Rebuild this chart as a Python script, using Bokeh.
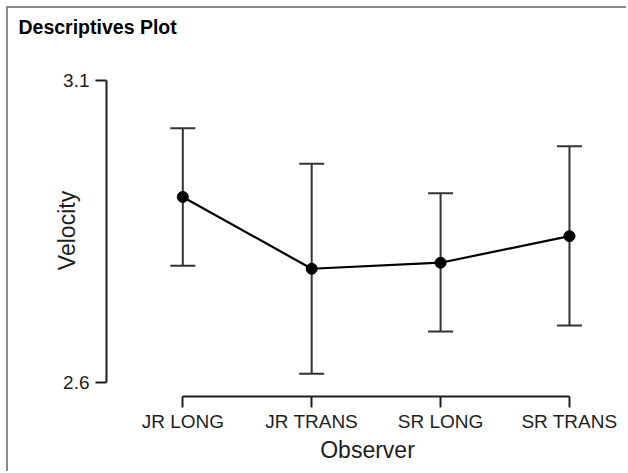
from bokeh.plotting import figure
from bokeh.models import FixedTicker, Range1d, Whisker, TeeHead, ColumnDataSource, Title
from bokeh.embed import file_html
from bokeh.resources import INLINE

title_text = "Descriptives Plot"
observers = ["JR LONG", "JR TRANS", "SR LONG", "SR TRANS"]
means = [2.907, 2.788, 2.798, 2.842]
upper = [3.021, 2.962, 2.913, 2.991]
lower = [2.793, 2.614, 2.684, 2.694]
y_ticks = [2.6, 3.1]

xpos = list(range(len(observers)))
src = ColumnDataSource(dict(x=xpos, mean=means, upper=upper, lower=lower))

FONT = "Liberation Sans"
INK = "#1e1e1e"
W, H = 620, 465

p = figure(width=W, height=H, output_backend="svg", toolbar_location=None,
           x_range=Range1d(-0.592, 3.458), y_range=Range1d(2.5763, 3.1265),
           min_border_left=98, min_border_right=0, min_border_top=56,
           min_border_bottom=77)
p.styles = {"border-left": "2px solid #8c8c8c", "border-top": "2px solid #8c8c8c",
            "margin-left": "6px", "margin-top": "6px"}

whisk = Whisker(base="x", upper="upper", lower="lower", source=src,
                line_width=2, line_color="#333333",
                upper_head=TeeHead(size=25, line_width=2, line_color="#333333"),
                lower_head=TeeHead(size=25, line_width=2, line_color="#333333"))
p.add_layout(whisk)
p.line("x", "mean", source=src, line_width=2.2, line_color="black")
p.scatter("x", "mean", source=src, size=11, fill_color="black", line_color="black")

p.xaxis.ticker = FixedTicker(ticks=xpos)
p.xaxis.major_label_overrides = {i: n for i, n in zip(xpos, observers)}
p.xaxis.bounds = (xpos[0], xpos[-1])
p.yaxis.ticker = FixedTicker(ticks=y_ticks)
p.yaxis.bounds = (y_ticks[0], y_ticks[-1])
p.xaxis.axis_label = "Observer"
p.yaxis.axis_label = "Velocity"

for ax in (p.xaxis[0], p.yaxis[0]):
    ax.axis_line_width = 2
    ax.axis_line_color = INK
    ax.major_tick_line_width = 2
    ax.major_tick_line_color = INK
    ax.major_tick_in = 0
    ax.major_tick_out = 11
    ax.minor_tick_line_color = None
    ax.major_label_text_font = FONT
    ax.major_label_text_font_size = "19px"
    ax.major_label_text_color = INK
    ax.axis_label_text_font = FONT
    ax.axis_label_text_font_size = "23px"
    ax.axis_label_text_font_style = "normal"
    ax.axis_label_text_color = INK
p.xaxis.major_label_standoff = 3
p.xaxis.axis_label_standoff = 2
p.yaxis.major_label_standoff = 6
p.yaxis.axis_label_standoff = -20

p.grid.visible = False
p.outline_line_color = None

# spacer between the title and the plot frame (sits next to the frame)
p.add_layout(Title(text=" ", text_font_size="10px", standoff=14), "above")

p.title.text = title_text
p.title.text_font = FONT
p.title.text_font_size = "19.5px"
p.title.text_font_style = "bold"
p.title.text_color = "black"
p.title.align = "left"
p.title.vertical_align = "bottom"
p.title.offset = -88
p.title.standoff = 0

open("out.html", "w").write(file_html(p, INLINE))
